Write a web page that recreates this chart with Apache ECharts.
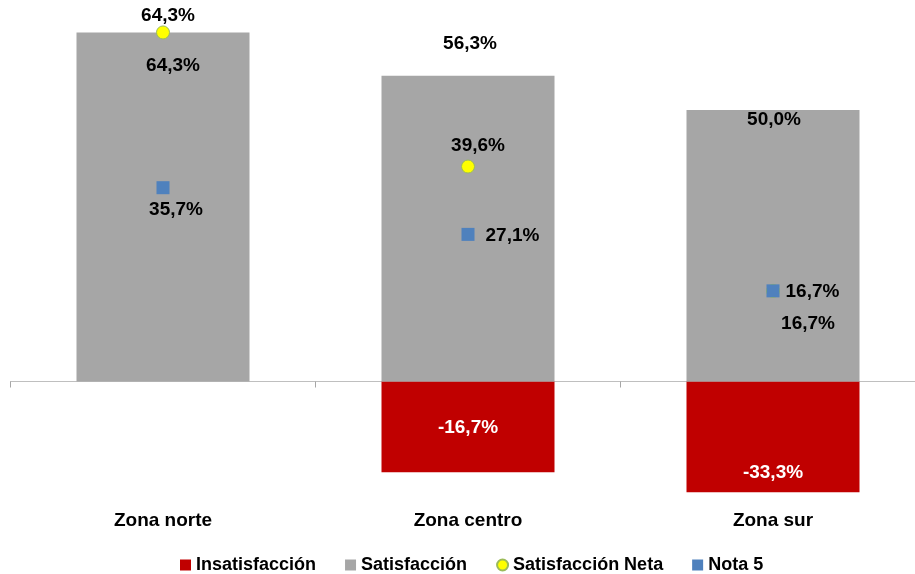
<!DOCTYPE html>
<html>
<head>
<meta charset="utf-8">
<script src="https://cdn.jsdelivr.net/npm/echarts@6/dist/echarts.min.js"></script>
<style>
  html, body { margin: 0; padding: 0; background: #ffffff; }
  #chart { width: 915px; height: 574px; }
</style>
</head>
<body>
<div id="chart"></div>
<script>
// Satisfaction by zone (percentages)
const categories = ['Zona norte', 'Zona centro', 'Zona sur'];
const insatisfaccion = [0, -16.7, -33.3];
const satisfaccion = [64.3, 56.3, 50.0];
const satisfaccionNeta = [64.3, 39.6, 16.7];
const nota5 = [35.7, 27.1, 16.7];

// Label placement for each zone
const satLabelPlace = [
  { position: 'insideTop', distance: 24, offset: [10, 0] },
  { position: 'top', distance: 23, offset: [2, 0] },
  { position: 'insideTop', distance: 0, offset: [1, 0] }
];
const insatLabelPlace = [
  { position: 'inside', distance: 0, offset: [0, 0] },
  { position: 'inside', distance: 0, offset: [0, 1] },
  { position: 'insideBottom', distance: 10, offset: [0, 0] }
];
const netaLabelPlace = [
  { position: 'inside', offset: [5, -17] },
  { position: 'inside', offset: [10, -21] },
  { position: 'inside', offset: [35, 33] }
];
const nota5LabelPlace = [
  { position: 'inside', offset: [13, 22] },
  { position: 'right', distance: 11, offset: [0, 1] },
  { position: 'right', distance: 6, offset: [0, 1] }
];

const FONT = "'Liberation Sans', Arial, sans-serif";
const fmt = v => (v === 0 || v == null) ? '' : v.toFixed(1).replace('.', ',') + '%';

function withLabels(values, places, color) {
  return values.map((v, i) => ({
    value: v,
    label: Object.assign({
      show: true,
      color: color,
      fontFamily: FONT,
      fontWeight: 'bold',
      fontSize: 19,
      formatter: p => fmt(p.value)
    }, places[i])
  }));
}

const chart = echarts.init(document.getElementById('chart'), null, { renderer: 'canvas' });

chart.setOption({
  animation: false,
  backgroundColor: '#ffffff',
  grid: {
    left: 10.5, width: 915, top: 1.5, height: 490.75,
    containLabel: false,
    outerBoundsMode: 'none'
  },
  legend: {
    left: 175,
    top: 551,
    itemWidth: 11,
    itemHeight: 11,
    itemGap: 29,
    textStyle: { fontFamily: FONT, fontWeight: 'bold', fontSize: 18, color: '#000' },
    data: [
      { name: 'Insatisfacción', icon: 'rect' },
      { name: 'Satisfacción', icon: 'rect' },
      { name: 'Satisfacción Neta', icon: 'circle' },
      { name: 'Nota 5', icon: 'rect' }
    ]
  },
  xAxis: [
    {
      // baseline at zero with category separators
      type: 'category',
      data: categories,
      axisLine: { onZero: true, lineStyle: { color: '#BFBFBF', width: 1 } },
      axisTick: { show: true, length: 6, lineStyle: { color: '#A6A6A6' } },
      axisLabel: { show: false },
      splitLine: { show: false }
    },
    {
      // category names below the plot
      type: 'category',
      data: categories,
      position: 'bottom',
      axisLine: { show: false, onZero: false },
      axisTick: { show: false },
      axisLabel: {
        show: true,
        margin: 19,
        fontFamily: FONT,
        fontWeight: 'bold',
        fontSize: 19,
        color: '#000'
      },
      splitLine: { show: false }
    }
  ],
  yAxis: {
    type: 'value',
    min: -20.4,
    max: 70,
    show: false
  },
  series: [
    {
      name: 'Insatisfacción',
      type: 'bar',
      stack: 'total',
      barWidth: 173,
      clip: true,
      itemStyle: { color: '#C00000' },
      data: withLabels(insatisfaccion, insatLabelPlace, '#ffffff')
    },
    {
      name: 'Satisfacción',
      type: 'bar',
      stack: 'total',
      barWidth: 173,
      itemStyle: { color: '#A6A6A6' },
      data: withLabels(satisfaccion, satLabelPlace, '#000')
    },
    {
      name: 'Satisfacción Neta',
      type: 'scatter',
      symbol: 'circle',
      symbolSize: 13,
      itemStyle: { color: '#FFFF00', borderColor: '#9BBB59', borderWidth: 1, opacity: 1 },
      data: withLabels(satisfaccionNeta, netaLabelPlace, '#000')
    },
    {
      name: 'Nota 5',
      type: 'scatter',
      symbol: 'rect',
      symbolSize: 13,
      itemStyle: { color: '#4F81BD', opacity: 1 },
      data: withLabels(nota5, nota5LabelPlace, '#000')
    }
  ]
});
</script>
</body>
</html>
